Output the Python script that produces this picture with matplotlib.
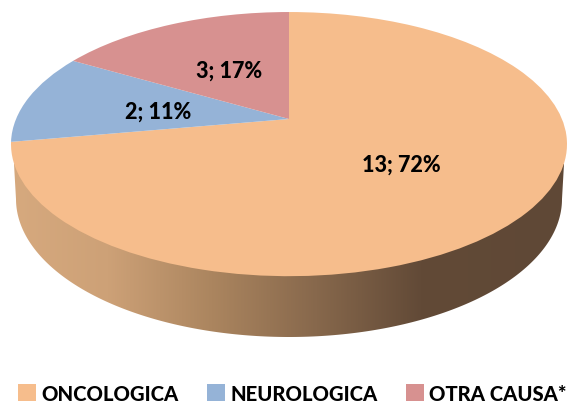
import numpy as np
import matplotlib
matplotlib.use("Agg")
import matplotlib.pyplot as plt
from matplotlib.colors import LinearSegmentedColormap
from matplotlib.patches import Polygon, Rectangle
from matplotlib.transforms import Transform

categories = ["ONCOLOGICA", "NEUROLOGICA", "OTRA CAUSA*"]
values = [13, 2, 3]
percents = [72, 11, 17]
colors = ["#f6bd8c", "#95b3d7", "#d79190"]

plt.rcParams["font.family"] = ["Lato", "DejaVu Sans"]

W, H = 568, 406
fig = plt.figure(figsize=(W / 100, H / 100), dpi=100)
ax = fig.add_axes([0, 0, 1, 1])

APEX = (289.0, 120.0)
B = 0.19
A = 127.3
C = 278.0 * np.sqrt(1 - B ** 2)


class Tilt(Transform):
    input_dims = output_dims = 2
    is_separable = False
    has_inverse = False

    def transform_non_affine(self, values):
        v = np.asarray(values, float)
        d = 1 + B * v[:, 1]
        return np.column_stack([APEX[0] + C * v[:, 0] / d,
                                APEX[1] - A * v[:, 1] / d])


wedges, _ = ax.pie(values, colors=colors, startangle=90, counterclock=False,
                   radius=1, center=(0, 0))
ax.set_aspect("auto")
ax.set_xlim(0, W)
ax.set_ylim(H, 0)
ax.set_axis_off()

tilt = Tilt() + ax.transData
for w in wedges:
    w.set_transform(tilt)
    w.set_clip_on(False)
    w.set_zorder(3)
    w.set_linewidth(0)

# side wall of the disc
t = np.linspace(np.pi, 0, 200)
bx = 289 + 273 * np.cos(t)
by = 200 + 138 * np.sin(t)
side_xy = np.vstack([[14, 165], np.column_stack([bx, by]), [564, 165], [289, 150]])
side = Polygon(side_xy, closed=True, transform=ax.transData, facecolor="none", edgecolor="none")
ax.add_patch(side)
cmap = LinearSegmentedColormap.from_list(
    "side", [(0, "#d6a97e"), (0.17, "#cda177"), (0.36, "#ab855f"), (0.55, "#87684c"),
             (0.74, "#624a37"), (1, "#5f4836")])
img = ax.imshow(np.linspace(0, 1, 256)[None, :], cmap=cmap, extent=(14, 564, 340, 150),
                aspect="auto", zorder=2)
img.set_clip_path(side)
ax.set_xlim(0, W)
ax.set_ylim(H, 0)

label_pos = [(401, 165), (158, 112), (229, 71)]
for v, p, (x, y) in zip(values, percents, label_pos):
    ax.text(x, y, f"{v}; {p}%", ha="center", va="center", fontsize=15.5,
            fontweight="black", color="black", zorder=5)

handles = [Rectangle((0, 0), 1, 1, facecolor=c, edgecolor="none") for c in colors]
ax.legend(handles, categories, loc="lower left", bbox_to_anchor=(2 / W, -14 / H), ncol=3,
          frameon=False, prop={"size": 14.6, "weight": "black"}, handlelength=0.9,
          handleheight=0.9, handletextpad=0.25, columnspacing=1.4, borderpad=0.3)

fig.savefig("out.png", dpi=100)
